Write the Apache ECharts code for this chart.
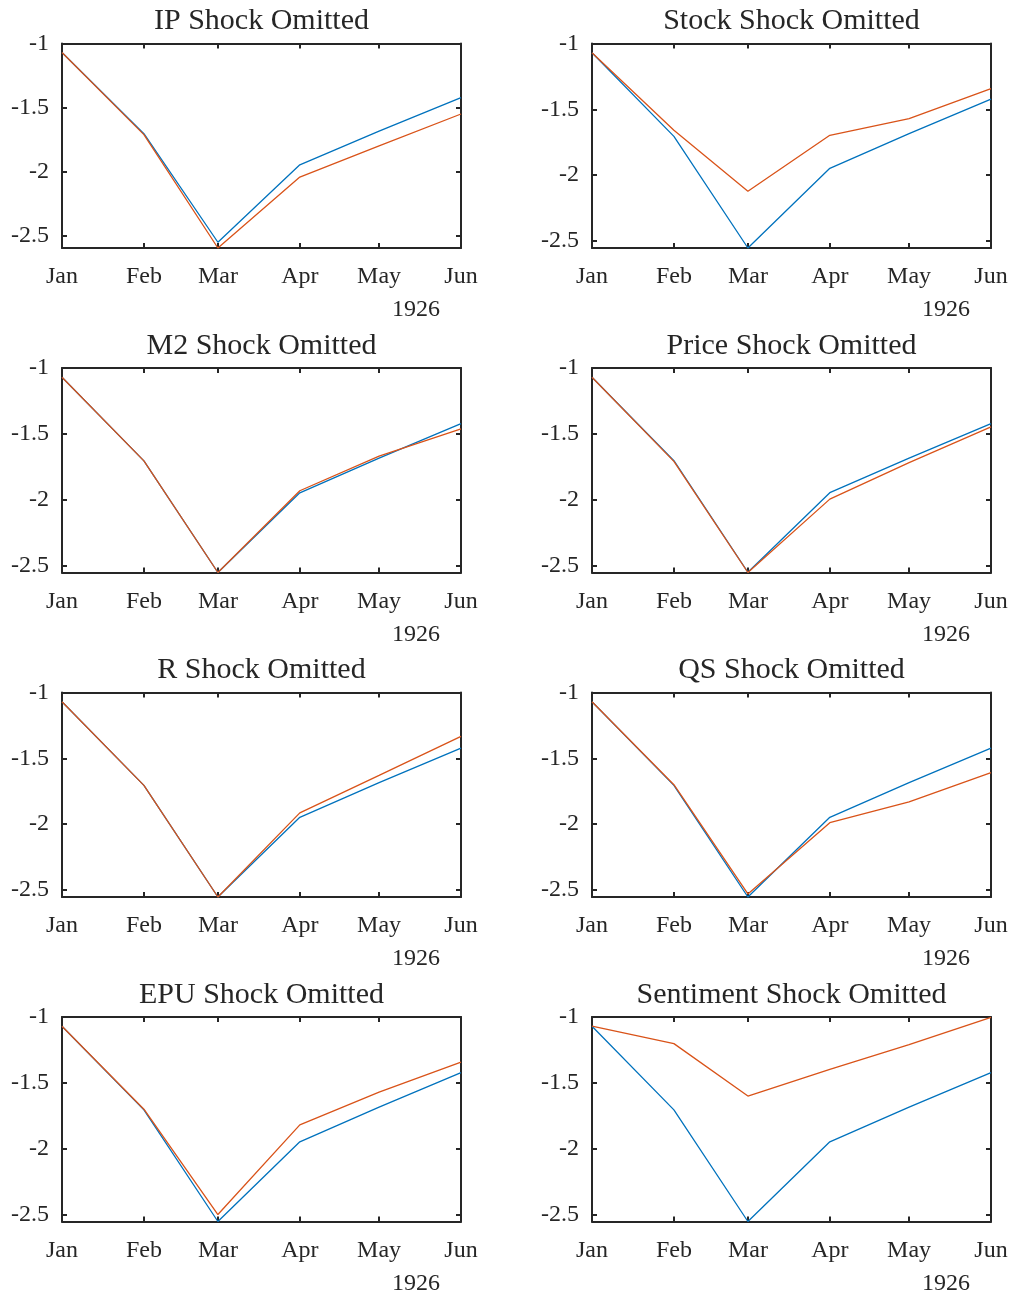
<!DOCTYPE html>
<html>
<head>
<meta charset="utf-8">
<script src="https://cdn.jsdelivr.net/npm/echarts@6/dist/echarts.min.js"></script>
<style>
  html, body { margin: 0; padding: 0; background: #ffffff; }
  #chart { width: 1014px; height: 1297px; }
</style>
</head>
<body>
<div id="chart"></div>
<script>
// Months of the horizon and their labels
const monthDates = ['1926-01-01', '1926-02-01', '1926-03-01', '1926-04-01', '1926-05-01', '1926-06-01'];
const monthLabels = ['Jan', 'Feb', 'Mar', 'Apr', 'May', 'Jun'];
const yearLabel = '1926';
const yTicks = [-2.5, -2, -1.5, -1];
const yTop = -1;

// Baseline path (all shocks) and paths with one shock omitted
const baseline         = [-1.07, -1.705, -2.553, -1.948, -1.685, -1.423];
const ipOmitted        = [-1.07, -1.712, -2.598, -2.044, -1.800, -1.551];
const stockOmitted     = [-1.07, -1.659, -2.122, -1.697, -1.570, -1.342];
const m2Omitted        = [-1.07, -1.705, -2.553, -1.932, -1.669, -1.462];
const priceOmitted     = [-1.07, -1.710, -2.555, -1.997, -1.720, -1.447];
const rOmitted         = [-1.07, -1.705, -2.553, -1.914, -1.630, -1.333];
const qsOmitted        = [-1.07, -1.700, -2.530, -1.989, -1.831, -1.609];
const epuOmitted       = [-1.07, -1.700, -2.500, -1.819, -1.570, -1.343];
const sentimentOmitted = [-1.07, -1.202, -1.600, -1.397, -1.210, -1.002];

const panelTitles = ['IP Shock Omitted', 'Stock Shock Omitted', 'M2 Shock Omitted', 'Price Shock Omitted',
                     'R Shock Omitted', 'QS Shock Omitted', 'EPU Shock Omitted', 'Sentiment Shock Omitted'];
const omittedPaths = [ipOmitted, stockOmitted, m2Omitted, priceOmitted, rOmitted, qsOmitted, epuOmitted, sentimentOmitted];

// Days elapsed since the first month, so the x scale follows calendar spacing
const DAY = 86400000;
function toUTC(s) { const p = s.split('-').map(Number); return Date.UTC(p[0], p[1] - 1, p[2]); }
const t0 = toUTC(monthDates[0]);
const monthDays = monthDates.map(d => Math.round((toUTC(d) - t0) / DAY));
const xEnd = monthDays[monthDays.length - 1];

// Layout
const colLeft = [62, 592];
const rowTop = [43.5, 368, 692.5, 1017];
const plotW = 399;
const plotH = 204.5;

const INK = '#262626';
const FONT = '"Liberation Serif", "Times New Roman", serif';
const BLUE = '#0072BD';
const ORANGE = '#D95319';

const grids = [], xAxes = [], yAxes = [], series = [], graphics = [];

omittedPaths.forEach((path, i) => {
  const r = Math.floor(i / 2), c = i % 2;
  const left = colLeft[c], top = rowTop[r];
  grids.push({ left: left, top: top, width: plotW, height: plotH });

  const yMin = Math.min(...baseline, ...path);
  const lineStyle = { color: INK, width: 2 };

  // bottom axis with month labels, top axis mirrors the ticks
  xAxes.push({
    type: 'value', gridIndex: i, min: 0, max: xEnd, position: 'bottom',
    axisLine: { show: true, onZero: false, lineStyle: lineStyle },
    axisTick: { show: true, inside: true, length: 5, customValues: monthDays, lineStyle: lineStyle },
    axisLabel: {
      show: true, customValues: monthDays, margin: 17,
      formatter: v => monthLabels[monthDays.indexOf(Math.round(v))],
      fontFamily: FONT, fontSize: 24, color: INK
    },
    splitLine: { show: false }
  });
  xAxes.push({
    type: 'value', gridIndex: i, min: 0, max: xEnd, position: 'top',
    axisLine: { show: true, onZero: false, lineStyle: lineStyle },
    axisTick: { show: true, inside: true, length: 5, customValues: monthDays, lineStyle: lineStyle },
    axisLabel: { show: false },
    splitLine: { show: false }
  });

  // left axis with labels, right axis mirrors the ticks
  yAxes.push({
    type: 'value', gridIndex: i, min: yMin, max: yTop, position: 'left',
    axisLine: { show: true, onZero: false, lineStyle: lineStyle },
    axisTick: { show: true, inside: true, length: 5, customValues: yTicks, lineStyle: lineStyle },
    axisLabel: {
      show: true, customValues: yTicks, margin: 13, padding: [4, 0, 0, 0],
      fontFamily: FONT, fontSize: 24, color: INK
    },
    splitLine: { show: false }
  });
  yAxes.push({
    type: 'value', gridIndex: i, min: yMin, max: yTop, position: 'right',
    axisLine: { show: true, onZero: false, lineStyle: lineStyle },
    axisTick: { show: true, inside: true, length: 5, customValues: yTicks, lineStyle: lineStyle },
    axisLabel: { show: false },
    splitLine: { show: false }
  });

  const toPoints = arr => arr.map((v, k) => [monthDays[k], v]);
  series.push({
    type: 'line', xAxisIndex: 2 * i, yAxisIndex: 2 * i,
    data: toPoints(baseline), showSymbol: false, symbol: 'none', clip: false,
    lineStyle: { color: BLUE, width: 1.3 }, z: 3
  });
  series.push({
    type: 'line', xAxisIndex: 2 * i, yAxisIndex: 2 * i,
    data: toPoints(path), showSymbol: false, symbol: 'none', clip: false,
    lineStyle: { color: ORANGE, width: 1.3 }, z: 4
  });

  // panel title and year caption
  graphics.push({
    type: 'text', x: left + plotW / 2, y: top - 22,
    style: { text: panelTitles[i], font: '30px ' + FONT, fill: INK,
             textAlign: 'center', textVerticalAlign: 'middle', align: 'center', verticalAlign: 'middle' }
  });
  graphics.push({
    type: 'text', x: left + 354, y: top + plotH + 62,
    style: { text: yearLabel, font: '24px ' + FONT, fill: INK,
             textAlign: 'center', textVerticalAlign: 'middle', align: 'center', verticalAlign: 'middle' }
  });
});

const chart = echarts.init(document.getElementById('chart'), null, { renderer: 'canvas' });
chart.setOption({
  animation: false,
  backgroundColor: '#ffffff',
  grid: grids,
  xAxis: xAxes,
  yAxis: yAxes,
  series: series,
  graphic: graphics
});
</script>
</body>
</html>
